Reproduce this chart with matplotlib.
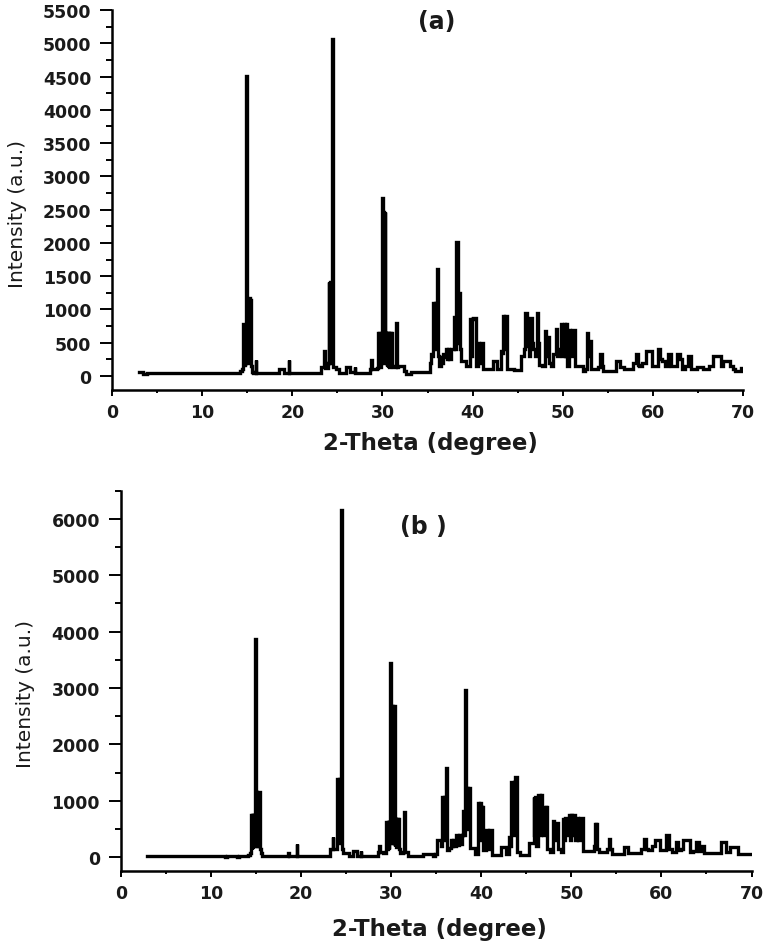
import matplotlib
matplotlib.use('Agg')
from matplotlib import pyplot as plt
from matplotlib.ticker import MultipleLocator

# trace: 2-theta (deg) and intensity (a.u.)
two_theta_a = [2.95, 3.45, 3.5, 3.9, 3.95, 14.0, 14.35, 14.45,
               14.55, 14.58, 14.62, 14.66, 14.70, 14.74, 14.78, 14.86, 14.93, 15.02,
               15.1, 15.17, 15.24, 15.30, 15.37, 15.42, 15.55, 15.7, 15.9, 15.94, 15.98,
               18.55, 18.6, 19.1, 19.15, 19.6, 19.64, 19.68,
               23.1, 23.26, 23.5, 23.56, 23.62, 23.9, 24.05, 24.08, 24.15, 24.22, 24.3,
               24.44, 24.5, 24.6, 25.0, 25.3, 25.85, 26.0, 26.4, 26.45, 26.9, 26.96, 27.0,
               28.6, 28.75, 28.81, 28.87, 29.3,
               29.5, 29.55, 29.6, 29.68, 29.75, 29.82, 29.9, 29.99, 30.07, 30.15, 30.2,
               30.26, 30.34, 30.42, 30.48, 30.55, 30.62, 30.7, 30.78, 30.86, 30.94, 31.0,
               31.05, 31.3, 31.52, 31.58, 31.64, 31.8, 32.3, 32.5, 32.7, 33.1, 33.25, 35.2,
               35.3, 35.46, 35.6, 35.72, 35.8, 35.9, 36.0, 36.13, 36.22, 36.39, 36.57,
               36.7, 36.8, 36.94, 37.05, 37.2, 37.35, 37.5, 37.65, 37.87, 37.94, 38.05,
               38.2, 38.3, 38.4, 38.5, 38.6, 38.7, 38.79, 39.16, 39.3, 39.6, 39.72, 39.82,
               39.95, 40.1, 40.27, 40.38, 40.6, 40.64, 40.8, 41.01, 41.19, 42.2, 42.3,
               42.68, 42.8, 43.1, 43.16, 43.3, 43.41, 43.55, 43.7, 43.78, 43.89, 45.3,
               45.45, 45.71, 45.8, 45.93, 46.05, 46.19, 46.3, 46.48, 46.6, 46.74, 47.0,
               47.19, 47.3, 47.48, 47.9, 48.07, 48.2, 48.41, 48.6, 48.78, 49.15, 49.33,
               49.5, 49.7, 49.89, 50.0, 50.2, 50.35, 50.44, 50.6, 50.74, 50.9, 51.1,
               51.25, 51.36, 52.11, 52.3, 52.6, 52.7, 52.85, 53.03, 53.22, 53.8, 54.0,
               54.25, 54.4, 54.51, 55.8, 56.0, 56.17, 56.5, 57.1, 57.5, 58.0, 58.21,
               58.4, 58.58, 59.0, 59.5, 59.8, 60.05, 60.5, 60.72, 60.9, 61.16, 61.5,
               61.9, 62.1, 62.5, 62.83, 63.1, 63.38, 63.7, 64.05, 64.3, 64.68, 65.2,
               66.0, 66.5, 66.8, 67.4, 67.6, 68.0, 68.4, 68.7, 69.0, 69.3, 69.6, 69.97]
intensity_a = [60, 60, 25, 25, 45, 45, 70, 110,
               150, 780, 160, 780, 170, 780, 200, 300, 4506, 250,
               1168, 200, 1168, 200, 1150, 150, 60, 45, 45, 240, 50,
               45, 100, 100, 45, 45, 240, 45,
               45, 130, 130, 374, 120, 120, 200, 1412, 200, 1412, 300,
               5070, 200, 130, 100, 45, 45, 135, 135, 60, 60, 135, 45,
               45, 100, 240, 100, 100,
               120, 640, 130, 640, 140, 640, 200, 2670, 200, 2470, 250,
               2470, 200, 640, 150, 640, 140, 640, 130, 640, 150, 640,
               150, 130, 130, 803, 130, 155, 155, 80, 30, 30, 60, 60,
               200, 330, 300, 1100, 400, 1100, 500, 1612, 300, 155, 280,
               200, 330, 280, 404, 250, 404, 250, 404, 404, 880, 400,
               2010, 2010, 500, 1243, 1243, 400, 230, 230, 155, 150, 853, 300,
               853, 878, 878, 155, 150, 504, 200, 504, 105, 105, 230,
               230, 105, 105, 380, 350, 903, 400, 903, 903, 105, 90,
               300, 300, 400, 943, 450, 450, 300, 870, 500, 404, 300,
               943, 500, 160, 150, 674, 300, 590, 200, 155, 330, 704,
               300, 404, 779, 300, 779, 300, 779, 155, 690, 300, 690,
               690, 155, 155, 80, 100, 640, 300, 530, 105, 105, 130,
               330, 150, 80, 80, 230, 230, 130, 105, 100, 200, 330,
               160, 155, 200, 370, 370, 155, 150, 400, 250, 230, 150,
               330, 155, 150, 330, 250, 110, 150, 300, 110, 110, 130,
               110, 150, 300, 300, 150, 230, 230, 150, 100, 80, 80, 120]

# trace
two_theta_b = [2.95, 11.5, 11.6, 12.0, 12.9, 13.0, 13.2, 14.0, 14.3, 14.45,
               14.5, 14.55, 14.62, 14.68, 14.74, 14.8, 14.95, 15.02, 15.1, 15.17,
               15.24, 15.3, 15.38, 15.45, 15.6, 15.8, 18.55, 18.64, 18.7, 19.5, 19.57,
               19.62, 23.2, 23.35, 23.5, 23.53, 23.6, 23.9, 24.1, 24.18, 24.3, 24.38,
               24.49, 24.56, 24.7, 25.2, 25.4, 25.7, 25.9, 26.2, 26.3, 26.6, 26.68,
               26.75, 27.0, 28.4, 28.6, 28.67, 28.8, 29.3, 29.55, 29.62, 29.7, 29.78,
               29.85, 29.96, 30.05, 30.19, 30.25, 30.37, 30.45, 30.52, 30.6, 30.68,
               30.76, 30.84, 30.9, 31.0, 31.3, 31.45, 31.52, 31.6, 31.8, 32.0, 33.5,
               33.6, 34.6, 34.7, 35.0, 35.25, 35.5, 35.6, 35.74, 35.82, 35.92, 36.0,
               36.1, 36.21, 36.3, 36.6, 36.7, 36.8, 36.95, 37.1, 37.3, 37.45, 37.6,
               37.75, 37.9, 38.0, 38.1, 38.15, 38.25, 38.32, 38.43, 38.55, 38.69,
               38.75, 39.2, 39.4, 39.6, 39.69, 39.8, 39.88, 39.99, 40.1, 40.18, 40.3,
               40.55, 40.62, 40.8, 40.95, 41.1, 41.2, 42.1, 42.3, 42.7, 42.9, 43.1,
               43.13, 43.3, 43.4, 43.55, 43.67, 43.76, 43.95, 44.0, 44.5, 45.3, 45.4,
               45.8, 45.87, 45.95, 46.06, 46.2, 46.46, 46.55, 46.65, 46.75, 46.9,
               47.05, 47.13, 47.2, 47.28, 47.4, 47.9, 48.02, 48.1, 48.3, 48.45, 48.6,
               49.0, 49.1, 49.2, 49.3, 49.45, 49.6, 49.8, 49.9, 50.0, 50.15, 50.3,
               50.45, 50.7, 50.85, 51.0, 51.2, 51.3, 52.4, 52.55, 52.64, 52.75, 52.83,
               52.95, 53.2, 53.9, 54.1, 54.23, 54.35, 54.6, 55.7, 56.0, 56.2, 56.4,
               57.5, 58.0, 58.19, 58.35, 58.7, 59.2, 59.4, 59.8, 59.95, 60.4, 60.71,
               60.9, 61.4, 61.77, 61.95, 62.3, 62.5, 63.1, 63.25, 63.7, 64.05, 64.3,
               64.6, 64.75, 66.4, 66.8, 67.1, 67.3, 67.9, 68.3, 68.6, 69.5, 69.9]
intensity_b = [20, 20, 5, 20, 20, 5, 20, 20, 40, 80,
               750, 150, 750, 160, 750, 200, 3870, 250, 1150, 200,
               1150, 200, 1150, 150, 76, 20, 20, 80, 20, 20, 236,
               20, 20, 147, 147, 366, 147, 147, 1390, 250, 1390, 300,
               6163, 150, 76, 76, 20, 20, 110, 110, 20, 20, 110,
               20, 20, 20, 100, 195, 100, 80, 631, 150, 631, 150,
               631, 3440, 250, 2688, 250, 2688, 200, 679, 180, 679,
               170, 679, 150, 76, 76, 100, 798, 100, 90, 30, 30,
               50, 50, 30, 50, 313, 313, 200, 1063, 300, 1063, 400,
               1583, 1583, 136, 170, 310, 200, 310, 200, 395, 220, 395,
               230, 395, 827, 827, 400, 2966, 500, 1223, 600, 1223,
               160, 160, 60, 60, 957, 300, 957, 898, 300, 898, 136,
               130, 484, 150, 484, 484, 44, 40, 180, 180, 60, 60,
               354, 200, 1330, 400, 1330, 1424, 1424, 100, 44, 44, 253,
               253, 1063, 400, 1063, 200, 1110, 400, 1110, 710, 400,
               710, 898, 400, 898, 150, 100, 649, 300, 600, 600, 150,
               100, 678, 300, 700, 678, 400, 755, 300, 755, 400, 755,
               300, 700, 300, 700, 700, 117, 117, 200, 590, 300, 590,
               150, 90, 90, 150, 324, 150, 60, 60, 190, 190, 80,
               80, 150, 324, 150, 120, 200, 310, 310, 120, 130, 401,
               150, 100, 270, 120, 150, 310, 310, 90, 110, 270, 110,
               200, 80, 80, 270, 270, 100, 190, 190, 60, 60, 60]

TXT = '#1a1a1a'

fig = plt.figure(figsize=(7.74, 9.45), dpi=100)
ax_a = fig.add_axes([0.1447, 0.5862, 0.8153, 0.4022])
ax_b = fig.add_axes([0.1560, 0.0776, 0.8150, 0.4021])

panels = [
    (ax_a, two_theta_a, intensity_a, (-210, 5500), 500, 250, '(a)', (0.515, 0.971), -0.135, -0.107),
    (ax_b, two_theta_b, intensity_b, (-238, 6500), 1000, 500, '(b )', (0.479, 0.907), -0.136, -0.122),
]

for ax, x, y, ylim, ymaj, ymin, tag, tagpos, ylab_x, xlab_y in panels:
    ax.plot(x, y, color='black', lw=2.4, drawstyle='steps-mid', solid_joinstyle='miter')
    ax.set_xlim(0, 70)
    ax.set_ylim(*ylim)
    ax.xaxis.set_major_locator(MultipleLocator(10))
    ax.xaxis.set_minor_locator(MultipleLocator(5))
    ax.yaxis.set_major_locator(MultipleLocator(ymaj))
    ax.yaxis.set_minor_locator(MultipleLocator(ymin))
    for side in ('top', 'right'):
        ax.spines[side].set_visible(False)
    for side in ('left', 'bottom'):
        ax.spines[side].set_linewidth(1.8)
    ax.tick_params(axis='y', which='major', direction='out', length=8.5, width=1.4, pad=6.5)
    ax.tick_params(axis='y', which='minor', direction='out', length=4.5, width=1.4)
    ax.tick_params(axis='x', which='major', direction='out', length=4.5, width=1.4, pad=5)
    ax.tick_params(axis='x', which='minor', direction='out', length=2.5, width=1.4)
    for lab in ax.get_xticklabels() + ax.get_yticklabels():
        lab.set_fontsize(12.5)
        lab.set_fontweight('bold')
        lab.set_color(TXT)
    ax.set_ylabel('Intensity (a.u.)', fontsize=14.5, color=TXT)
    ax.yaxis.set_label_coords(ylab_x, 0.467)
    ax.set_xlabel('2-Theta (degree)', fontsize=16.5, fontweight='bold', color=TXT)
    ax.xaxis.set_label_coords(0.505, xlab_y)
    ax.text(tagpos[0], tagpos[1], tag, transform=ax.transAxes, ha='center', va='center',
            fontsize=17, fontweight='bold', color=TXT)

plt.savefig('out.png', dpi=100)
